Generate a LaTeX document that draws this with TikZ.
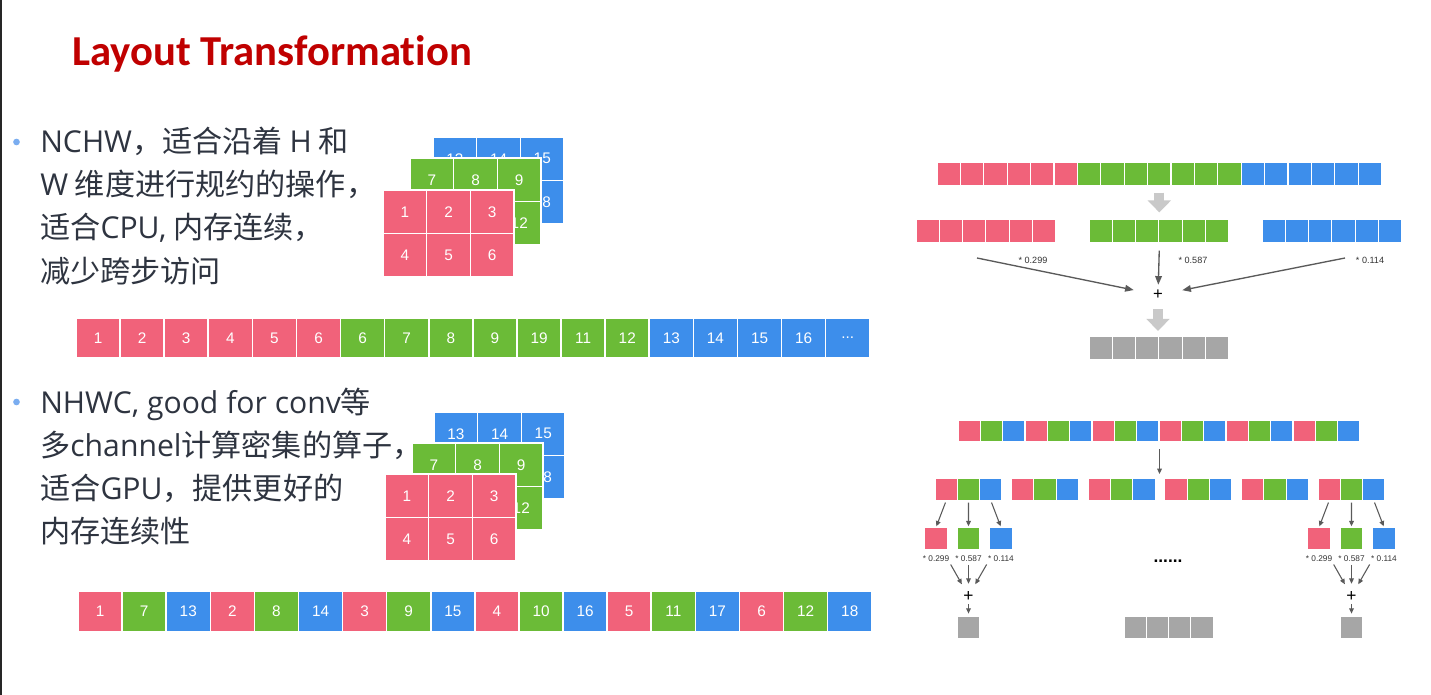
\documentclass[tikz,border=0pt]{standalone}
\usepackage{fontspec}
\setmainfont{Noto Sans CJK SC}
\newfontfamily\lat{Open Sans}
\newfontfamily\titlefont[Ligatures=NoCommon]{Carlito}
\newfontfamily\cellfont{Liberation Sans}
\usepackage{tikz}
\usetikzlibrary{arrows.meta}
\newcommand\tripledot{...}
\definecolor{redc}{HTML}{F1627A}
\definecolor{greenc}{HTML}{6BBB37}
\definecolor{bluec}{HTML}{3D8EEB}
\definecolor{grayc}{HTML}{A6A6A6}
\definecolor{fatc}{HTML}{C9C9C9}
\definecolor{arrowc}{HTML}{5A5A5A}
\definecolor{txtc}{HTML}{2E3440}
\definecolor{titlec}{HTML}{C00000}
\definecolor{dotc}{HTML}{7AADF0}
\tikzset{
  cell/.style={draw=white,inner sep=0pt,text=white,font=\cellfont\fontsize{11.5}{12}\selectfont},
  scell/.style={cell,line width=1.2pt,minimum width=33.1pt,minimum height=30pt},
  gcell/.style={cell,line width=1.2pt,minimum width=32.8pt,minimum height=32.6pt},
  rcell/.style={cell,line width=0.8pt,minimum width=17.5pt,minimum height=17.3pt},
  bcell/.style={cell,line width=0.8pt,minimum width=16.75pt,minimum height=16pt},
  ar/.style={-{Triangle[length=6.5pt,width=5pt]},line width=1pt,arrowc},
  sar/.style={-{Triangle[length=4pt,width=3.5pt]},line width=0.8pt,arrowc},
  fat/.style={-{Triangle[length=9pt,width=17pt]},line width=7.5pt,fatc},
  wt/.style={inner sep=0pt,text=black!80,font=\cellfont\fontsize{6.8}{7}\selectfont},
  txt/.style={anchor=base west,inner sep=0pt,text=txtc,font=\fontsize{22.6}{26}\selectfont},
  sumnode/.style={inner sep=0pt,font=\cellfont\fontsize{12.5}{12}\selectfont}
}
\begin{document}
\begin{tikzpicture}[x=0.75pt,y=-0.75pt]
\useasboundingbox (0,0) rectangle (1431,695);
\fill[white] (0,0) rectangle (1431,695);
\draw[line width=1.5pt,black!85] (1,0) -- (1,695);
\node[anchor=base west,inner sep=0pt,text=titlec,font=\titlefont\bfseries\fontsize{32}{36}\selectfont] (title) at (72,66) {Layout Transformation};
% stacked planes
\foreach \px/\py/\c/\labs [count=\s] in {433/137/bluec/{13,14,15,{},{},18},410/158/greenc/{7,8,9,{},{},12},383/190/redc/{1,2,3,4,5,6}}
  \foreach \lbl [count=\j from 0] in \labs
    \node[gcell,fill=\c] (p\s\j) at ({\px+43.7*(mod(\j,3)+0.5)},{\py+43.5*(int(\j/3)+0.5)}) {\lbl};
\foreach \px/\py/\c/\labs [count=\s] in {434/412/bluec/{13,14,15,{},{},18},412/443/greenc/{7,8,9,{},{},12},385/474/redc/{1,2,3,4,5,6}}
  \foreach \lbl [count=\j from 0] in \labs
    \node[gcell,fill=\c] (q\s\j) at ({\px+43.7*(mod(\j,3)+0.5)},{\py+43.5*(int(\j/3)+0.5)}) {\lbl};
% bullets
\node[circle,fill=dotc,inner sep=0pt,minimum size=5pt] (d1) at (16.5,142) {};
\node[circle,fill=dotc,inner sep=0pt,minimum size=5pt] (d2) at (16.5,402) {};
\foreach \t [count=\k from 0] in {{{\lat NCHW}，适合沿着 {\lat H} 和},{{\lat W} 维度进行规约的操作，},{适合{\lat CPU,} 内存连续，},{减少跨步访问}}
  \node[txt] (n\k) at (40,{153+43*\k}) {\t};
\foreach \t [count=\k from 0] in {{{\lat NHWC, good for conv}等},{多{\lat channel}计算密集的算子，},{适合{\lat GPU}，提供更好的},{内存连续性}}
  \node[txt] (t\k) at (40,{413+43*\k}) {\t};
% memory strips
\foreach \lbl/\c [count=\i from 0] in {1/redc,2/redc,3/redc,4/redc,5/redc,6/redc,6/greenc,7/greenc,8/greenc,9/greenc,19/greenc,11/greenc,12/greenc,13/bluec,14/bluec,15/bluec,16/bluec,\tripledot/bluec}
  \node[scell,fill=\c] (a\i) at ({76+44.1*(\i+0.5)},338) {\lbl};
\foreach \c [count=\ch from 0] in {redc,greenc,bluec}
  \foreach \k in {0,...,5}
    \node[scell,fill=\c,minimum height=30.75pt] (b\k\ch) at ({78+44.1*(3*\k+\ch+0.5)},611.5) {\pgfmathparse{int(6*\ch+\k+1)}\pgfmathresult};
% NCHW to gray
\foreach \i in {0,...,18}{
  \ifnum\i<6 \def\c{redc}\else\ifnum\i<13 \def\c{greenc}\else\def\c{bluec}\fi\fi
  \node[rcell,fill=\c] (u\i) at ({937+23.4*(\i+0.5)},174.5) {};
}
\foreach \c/\px [count=\s] in {redc/916,greenc/1089,bluec/1262}
  \foreach \i in {0,...,5}
    \node[rcell,fill=\c] (m\s\i) at ({\px+23.3*(\i+0.5)},231.5) {};
\draw[fat,shorten <=4.5pt,shorten >=5.25pt] (u9.south) -- (u9.south |- m22.north);
\node[sumnode,minimum width=36pt,minimum height=15pt] (pl) at (1158,295) {+};
\node[wt] (w1) at (1033,260) {* 0.299};
\node[wt] (w2) at (1193,260) {* 0.587};
\node[wt] (w3) at (1370,260) {* 0.114};
\coordinate (fr) at (977,258);
\coordinate (fb) at (1345,258);
\draw[ar] (fr) -- (pl);
\draw[ar,shorten <=5.25pt] (m22.south east) -- (pl);
\draw[ar] (fb) -- (pl);
\foreach \i in {0,...,5}
  \node[rcell,fill=grayc] (o\i) at ({1089+23.3*(\i+0.5)},348) {};
\draw[fat,shorten <=3pt,shorten >=3.75pt] (pl.south) -- (pl.south |- o2.north);
% NHWC to gray
\foreach \c [count=\ch from 0] in {redc,greenc,bluec}
  \foreach \k in {0,...,5}
    \node[bcell,fill=\c] (v\k\ch) at ({958+22.33*(3*\k+\ch+0.5)},431) {};
\coordinate (split) at (1158,474);
\draw[sar,shorten <=5.25pt] (v22.south east) -- (v22.south east |- split);
\foreach \c [count=\ch from 0] in {redc,greenc,bluec}
  \foreach \k in {1,...,6}
    \node[bcell,fill=\c] (g\k\ch) at ({935+76.6*(\k-1)+22.33*(\ch+0.5)},489.5) {};
\foreach \k/\px in {1/936,6/1319}{
  \foreach \c/\w [count=\ch from 0] in {redc/0.299,greenc/0.587,bluec/0.114}{
    \node[bcell,fill=\c] (h\k\ch) at ({\px+32.5*\ch},538.5) {};
    \node[wt,font=\cellfont\fontsize{6.2}{7}\selectfont] (l\k\ch) at ({\px+32.5*\ch},559) {* \w};
    \draw[sar,shorten <=1.5pt,shorten >=0.75pt] (g\k\ch.south) -- (h\k\ch.north);
  }
  \node[sumnode,font=\cellfont\fontsize{13}{13}\selectfont,minimum size=12pt] (s\k) at ({\px+32.5},596) {+};
  \draw[sar,shorten <=2pt,shorten >=3pt] (l\k0.south east) -- (s\k);
  \draw[sar,shorten <=2pt,shorten >=3pt] (l\k1.south) -- (s\k);
  \draw[sar,shorten <=2pt,shorten >=3pt] (l\k2.south west) -- (s\k);
  \node[bcell,fill=grayc] (z\k) at ({\px+32.5},627.5) {};
  \draw[sar,shorten >=2pt] (s\k) -- (z\k);
}
\node[anchor=base,font=\cellfont\bfseries\fontsize{13}{13}\selectfont,inner sep=0pt] (dd) at (1168,562) {\tripledot\tripledot};
\foreach \i in {0,...,3}
  \node[bcell,fill=grayc] (e\i) at ({1124+22.3*(\i+0.5)},627.5) {};
\end{tikzpicture}
\end{document}
